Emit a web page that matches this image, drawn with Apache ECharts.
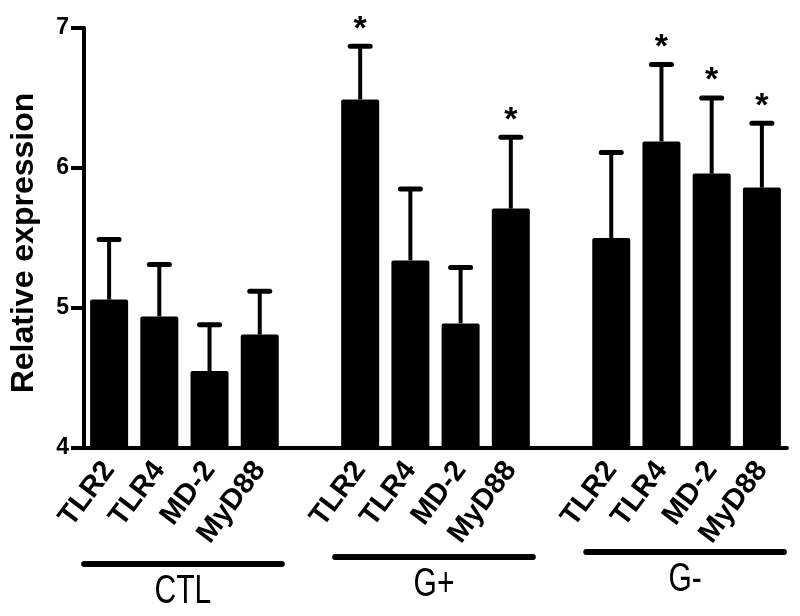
<!DOCTYPE html>
<html>
<head>
<meta charset="utf-8">
<script src="https://cdn.jsdelivr.net/npm/echarts@6/dist/echarts.min.js"></script>
<style>
html,body{margin:0;padding:0;background:#fff;}
#chart{width:800px;height:616px;}
</style>
</head>
<body>
<div id="chart"></div>
<script>
// ---- data ----
const genes = ['TLR2', 'TLR4', 'MD-2', 'MyD88'];
const groups = ['CTL', 'G+', 'G-'];
const ctlMean  = [5.06, 4.94, 4.55, 4.81];
const gposMean = [6.49, 5.34, 4.89, 5.71];
const gnegMean = [5.50, 6.19, 5.96, 5.86];
const ctlTop   = [5.49, 5.31, 4.88, 5.12];   // mean + error
const gposTop  = [6.87, 5.85, 5.29, 6.22];
const gnegTop  = [6.11, 6.74, 6.50, 6.32];
const ctlSig   = [0, 0, 0, 0];
const gposSig  = [1, 0, 0, 1];
const gnegSig  = [0, 1, 1, 1];
const yTicks = [4, 5, 6, 7];

// ---- build category slots (blank slot between groups) ----
const means = [ctlMean, gposMean, gnegMean];
const tops = [ctlTop, gposTop, gnegTop];
const sigs = [ctlSig, gposSig, gnegSig];
const categories = [];
const barData = [];
const errData = [];
const groupSlots = [];
groups.forEach((g, gi) => {
  if (gi > 0) { categories.push(''); barData.push('-'); }
  const first = categories.length;
  genes.forEach((gene, i) => {
    const idx = categories.length;
    categories.push(gene);
    barData.push(means[gi][i]);
    errData.push([idx, means[gi][i], tops[gi][i], sigs[gi][i]]);
  });
  groupSlots.push([first, categories.length - 1]);
});

const FONT = 'Liberation Sans, Arial, sans-serif';
const chart = echarts.init(document.getElementById('chart'));
chart.setOption({
  animation: false,
  backgroundColor: '#fff',
  grid: { left: 82, right: 13, top: 28, bottom: 168, containLabel: false },
  xAxis: {
    type: 'category',
    data: categories,
    boundaryGap: true,
    axisLine: { lineStyle: { color: '#000', width: 4 } },
    axisTick: { show: false },
    axisLabel: {
      interval: 0, rotate: 53, color: '#000', fontFamily: FONT,
      fontWeight: 'bold', fontSize: 29, margin: 17
    }
  },
  yAxis: {
    type: 'value',
    min: yTicks[0], max: yTicks[yTicks.length - 1], interval: 1,
    name: 'Relative expression',
    nameLocation: 'middle', nameGap: 44,
    nameTextStyle: { color: '#000', fontFamily: FONT, fontWeight: 'bold', fontSize: 32,
      padding: [0, 10, 0, 0] },
    axisLine: { show: true, lineStyle: { color: '#000', width: 4 } },
    axisTick: { show: true, length: 13, lineStyle: { color: '#000', width: 4 } },
    axisLabel: { color: '#000', fontFamily: FONT, fontWeight: 'bold', fontSize: 23, margin: 15 },
    splitLine: { show: false }
  },
  series: [
    {
      type: 'bar',
      data: barData,
      barWidth: 38,
      itemStyle: { color: '#000', borderRadius: 2 },
      z: 2
    },
    {
      type: 'custom',
      data: errData,
      encode: { x: 0, y: 2 },
      z: 3,
      renderItem: function (params, api) {
        const x = api.value(0);
        const pm = api.coord([x, api.value(1)]);
        const pt = api.coord([x, api.value(2)]);
        const children = [
          { type: 'line', shape: { x1: pt[0], y1: pm[1], x2: pt[0], y2: pt[1] },
            style: { stroke: '#000', lineWidth: 4 } },
          { type: 'line', shape: { x1: pt[0] - 10, y1: pt[1], x2: pt[0] + 10, y2: pt[1] },
            style: { stroke: '#000', lineWidth: 5, lineCap: 'round' } }
        ];
        if (api.value(3)) {
          children.push({ type: 'text', style: {
            text: '*', x: pt[0], y: pt[1] - 17, align: 'center', verticalAlign: 'middle',
            font: 'bold 34px ' + FONT, fill: '#000' } });
        }
        return { type: 'group', children: children };
      }
    }
  ]
});

// group brackets and labels, positioned from the axis scale
const yOffsets = [116, 109, 104];
const elements = [];
groupSlots.forEach((s, gi) => {
  const x1 = chart.convertToPixel({ xAxisIndex: 0 }, s[0]) - 25;
  const x2 = chart.convertToPixel({ xAxisIndex: 0 }, s[1]) + 22;
  const y0 = chart.convertToPixel({ yAxisIndex: 0 }, yTicks[0]) + yOffsets[gi];
  elements.push({ type: 'line', shape: { x1: x1, y1: y0, x2: x2, y2: y0 },
    style: { stroke: '#000', lineWidth: 6, lineCap: 'round' } });
  elements.push({ type: 'text', x: (x1 + x2) / 2, y: y0 + 8, scaleY: 1.35,
    style: { text: groups[gi], fontFamily: FONT, fontSize: 30, fill: '#000',
      align: 'center', verticalAlign: 'top' } });
});
chart.setOption({ graphic: elements });
</script>
</body>
</html>
